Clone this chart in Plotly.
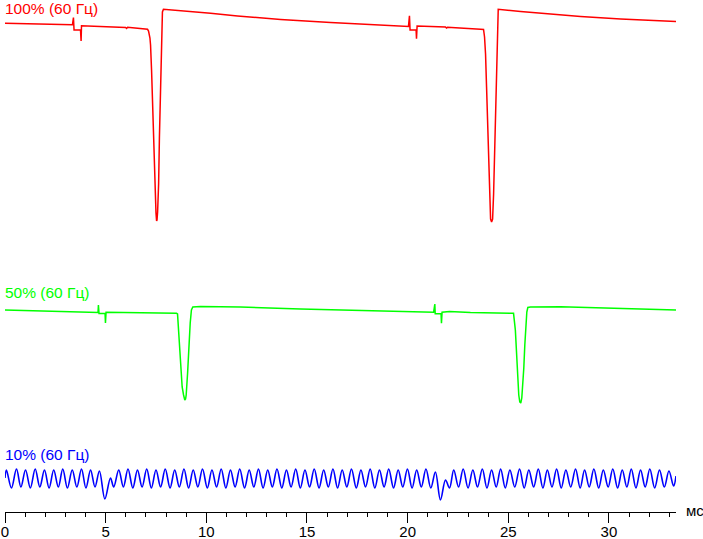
import plotly.graph_objects as go

# Time axis in ms; y values are screen-level readings (0 = top, 512 = axis line)
red_t = [0.00, 1.27, 2.51, 3.35, 3.40, 3.43, 3.75, 3.78, 3.80, 4.75, 5.99, 6.04, 6.09, 7.08,
         7.13, 7.20, 7.23, 7.28, 7.33, 7.38, 7.44, 7.50, 7.53, 7.55, 7.58, 7.63, 7.67, 7.72,
         7.77, 7.82, 7.87, 8.97, 10.21, 11.55, 13.69, 16.17, 18.66, 19.90, 20.04, 20.09, 20.12,
         20.42, 20.44, 20.47, 21.88, 21.93, 21.98, 23.62, 23.77, 23.82, 23.87, 23.92, 23.97,
         24.02, 24.07, 24.12, 24.17, 24.22, 24.27, 24.32, 24.37, 24.42, 24.47, 24.50, 25.61,
         26.60, 28.59, 30.58, 32.07, 33.33]
red_y = [23.3, 23.8, 24.3, 24.8, 17.5, 30.0, 30.0, 41.0, 25.7, 26.3, 27.5, 28.5, 27.3, 29.3,
         31.0, 38.0, 45.0, 70.0, 107.0, 148.0, 186.0, 213.0, 221.0, 220.0, 212.0, 184.0, 138.0, 82.0,
         37.0, 12.0, 9.3, 11.0, 13.3, 16.0, 19.5, 22.5, 25.0, 26.0, 26.5, 15.7, 30.0,
         30.0, 38.7, 26.0, 27.0, 28.0, 27.3, 29.3, 29.5, 37.0, 54.0, 87.0, 127.0,
         166.0, 199.0, 219.0, 222.0, 219.0, 194.0, 154.0, 100.0, 50.0, 18.0, 9.3, 11.5,
         13.3, 16.5, 19.0, 20.5, 21.5]

green_t = [0.00, 2.26, 4.50, 4.62, 4.64, 4.67, 4.97, 4.99, 5.02, 6.23, 8.52, 8.57, 8.60, 8.67,
           8.73, 8.80, 8.87, 8.93, 8.97, 9.00, 9.07, 9.13, 9.20, 9.26, 9.33, 9.71, 10.70, 11.70,
           14.68, 17.16, 19.65, 21.29, 21.35, 21.37, 21.66, 21.68, 21.71, 22.08, 23.12, 25.26,
           25.35, 25.41, 25.46, 25.52, 25.57, 25.62, 25.67, 25.72, 25.77, 25.82, 25.87, 25.92,
           25.97, 26.10, 27.60, 30.58, 33.33]
green_y = [310.0, 311.0, 312.5, 312.5, 305.0, 313.5, 313.5, 323.0, 312.3, 312.5, 313.3, 314.0, 323.0, 350.0,
           370.0, 387.0, 395.0, 400.0, 399.0, 395.0, 373.0, 347.0, 323.0, 310.0, 307.0, 306.5, 306.7, 307.0,
           309.0, 310.5, 312.0, 312.3, 304.0, 313.7, 313.7, 323.3, 312.3, 311.5, 312.5, 313.3,
           330.0, 357.0, 380.0, 395.0, 402.0, 403.0, 398.0, 387.0, 368.0, 345.0, 323.0, 312.0,
           307.5, 307.0, 306.8, 308.5, 310.0]

blue_t = [0.00, 0.07, 0.32, 0.57, 0.79, 1.02, 1.26, 1.50, 1.73, 1.96, 2.19, 2.42, 2.65, 2.87,
          3.10, 3.34, 3.57, 3.80, 4.02, 4.25, 4.47, 4.69, 4.96, 5.24, 5.40,
          5.65, 5.88, 6.11, 6.35, 6.58, 6.81, 7.04, 7.27, 7.50, 7.73, 7.96, 8.20, 8.43, 8.66,
          8.89, 9.12, 9.35, 9.58, 9.81, 10.05, 10.28, 10.51, 10.74, 10.97, 11.20, 11.43, 11.66,
          11.90, 12.13, 12.36, 12.59, 12.82, 13.05, 13.28, 13.51, 13.75, 13.98, 14.21, 14.44,
          14.67, 14.90, 15.13, 15.36, 15.60, 15.83, 16.06, 16.29, 16.52, 16.75, 16.98, 17.21,
          17.45, 17.68, 17.91, 18.14, 18.37, 18.60, 18.83, 19.06, 19.30, 19.53, 19.76, 19.99,
          20.22, 20.45, 20.68, 20.91, 21.15, 21.38, 21.63, 21.88, 22.08,
          22.29, 22.53, 22.76, 23.00, 23.24, 23.47, 23.71, 23.94, 24.17, 24.40, 24.62, 24.85,
          25.08, 25.32, 25.56, 25.79, 26.02, 26.26, 26.49, 26.72, 26.94, 27.17, 27.40, 27.63,
          27.86, 28.10, 28.34, 28.57, 28.79, 29.02, 29.25, 29.49, 29.72, 29.96, 30.19, 30.43,
          30.66, 30.89, 31.11, 31.34, 31.57, 31.80, 32.03, 32.27, 32.51, 32.75, 32.98, 33.21,
          33.33]
blue_y = [478, 470, 488, 469, 487, 470, 488, 469, 487, 470, 488, 470, 487, 469,
          488, 470, 487, 469, 488, 470, 487, 471, 499, 478, 487,
          470, 487, 469, 488, 470, 487, 469, 488, 470, 487, 469, 488, 470, 487,
          469, 488, 470, 487, 469, 488, 470, 487, 469, 488, 470, 487, 469,
          488, 470, 487, 469, 488, 470, 487, 469, 488, 470, 487, 469,
          488, 470, 487, 469, 488, 470, 487, 469, 488, 470, 487, 469,
          488, 470, 487, 469, 488, 470, 487, 469, 488, 470, 487, 469,
          488, 470, 487, 469, 488, 472, 500, 480, 488,
          470, 487, 469, 488, 470, 487, 469, 488, 470, 487, 469, 488,
          470, 487, 469, 488, 470, 487, 469, 488, 470, 487, 469, 488,
          470, 487, 469, 488, 470, 487, 469, 488, 470, 487, 469, 488,
          470, 487, 469, 488, 470, 487, 469, 488, 470, 487, 471, 486,
          476]

labels = ["100% (60 Гц)", "50% (60 Гц)", "10% (60 Гц)"]
label_y = [8.0, 292.5, 454.0]
colors = ["#FF0000", "#00FF00", "#0000FF"]

tick_vals = [0, 5, 10, 15, 20, 25, 30]
tick_text = ["0", "5", "10", "15", "20", "25", "30"]
unit_label = "мс"

FONT = "Liberation Sans, Arial, sans-serif"

fig = go.Figure()
fig.add_trace(go.Scatter(x=red_t, y=red_y, mode="lines",
                         line=dict(color=colors[0], width=1.5), hoverinfo="skip"))
fig.add_trace(go.Scatter(x=green_t, y=green_y, mode="lines",
                         line=dict(color=colors[1], width=1.5), hoverinfo="skip"))
fig.add_trace(go.Scatter(x=blue_t, y=blue_y, mode="lines",
                         line=dict(color=colors[2], width=1.6, shape="spline", smoothing=1.0),
                         hoverinfo="skip"))

for txt, yy, c in zip(labels, label_y, colors):
    fig.add_annotation(text=txt, xref="paper", x=0, xanchor="left", xshift=-2,
                       yref="y", y=yy, yanchor="middle", showarrow=False,
                       font=dict(family=FONT, size=15.5, color=c))

fig.add_annotation(text=unit_label, xref="paper", x=1, xanchor="left", xshift=8,
                   yref="y", y=510.5, yanchor="middle", showarrow=False,
                   font=dict(family=FONT, size=15, color="black"))

fig.update_layout(
    width=703, height=539,
    margin=dict(l=5, r=27, t=0, b=27, autoexpand=False),
    paper_bgcolor="white", plot_bgcolor="white",
    showlegend=False,
    xaxis=dict(range=[0, 33.33], tickvals=tick_vals, ticktext=tick_text,
               ticks="outside", ticklen=10, tickwidth=1, tickcolor="black",
               showline=True, linecolor="black", linewidth=1,
               showgrid=False, zeroline=False, automargin=False,
               ticklabelstandoff=-4,
               minor=dict(dtick=1, tick0=0, ticks="outside", ticklen=4,
                          tickcolor="black", tickwidth=1, showgrid=False),
               tickfont=dict(family=FONT, size=15, color="black")),
    yaxis=dict(range=[512, 0], visible=False, showgrid=False, zeroline=False),
)

fig.write_html("out.html", config={"displayModeBar": False},
               post_script="document.body.style.margin='0';document.body.style.padding='0';")
